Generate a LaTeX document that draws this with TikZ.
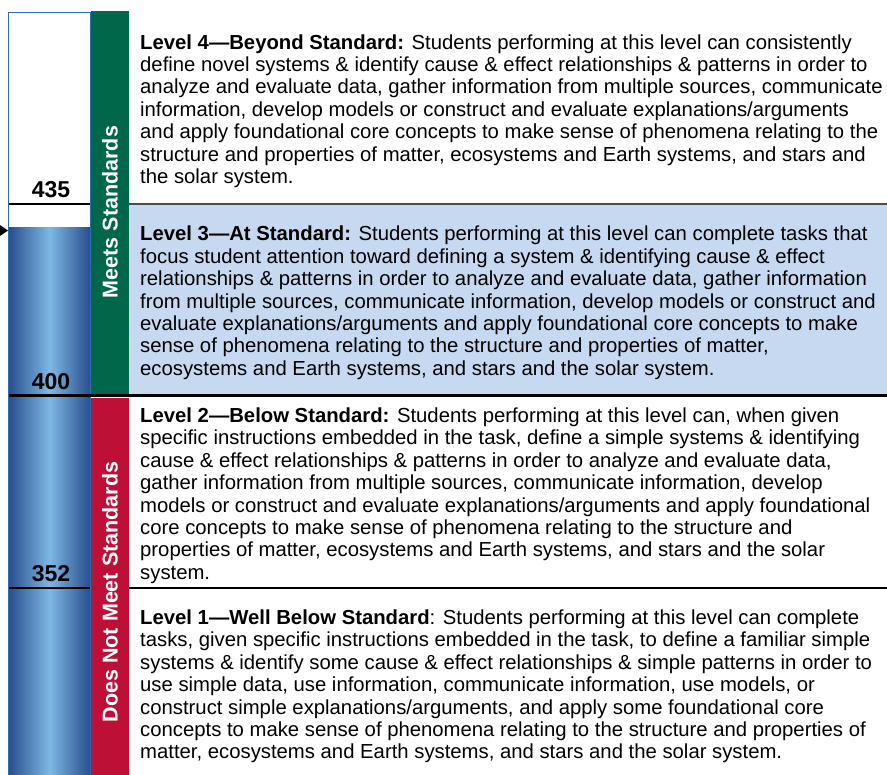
\documentclass[tikz,border=0pt]{standalone}
\usepackage{fontspec}
\setmainfont{Liberation Sans}
\definecolor{meetsgreen}{RGB}{0,103,74}
\definecolor{notred}{RGB}{190,16,55}
\definecolor{lvlblue}{RGB}{198,217,241}
\definecolor{bardark}{RGB}{42,78,142}
\definecolor{barlight}{RGB}{125,184,228}
\definecolor{baredge}{RGB}{40,110,180}
\begin{document}
\begin{tikzpicture}[x=1pt,y=-1pt,
    desc/.style={anchor=north west,align=left,inner sep=0pt,font=\fontsize{20.3}{22.4}\selectfont},
    score/.style={anchor=base,inner sep=0pt,font=\fontsize{23}{23}\selectfont\bfseries},
    band/.style={rotate=90,text=white,inner sep=0pt,font=\fontsize{21.5}{21.5}\selectfont\bfseries}]
      \useasboundingbox (0,0) rectangle (887,775);
      \fill[lvlblue] (129,204) rectangle (887,395);
      \shade[left color=bardark,right color=bardark,middle color=barlight] (9,228) rectangle (90,775);
      \draw[baredge,line width=1pt] (8.5,776) -- (8.5,12.5) -- (90,12.5) -- (90,776);
      \fill[meetsgreen] (91,11) rectangle (129,395);
      \fill[notred] (91,398) rectangle (129,775);
      \fill (0,225) -- (8,230.5) -- (0,236) -- cycle;
      \draw
        (51,198) node[score] (s435){435}
        (51,389.5) node[score] (s400){400}
        (51,581.5) node[score] (s352){352};
      \draw
        (110,212) node[band] (meets){Meets Standards}
        (110,592) node[band] (notmeets){Does Not Meet Standards};
      \begin{scope}[line cap=butt]
        \draw[line width=2pt] (9,204) -- (90,204);
        \draw[gray!60!black,line width=1.2pt] (129,204) -- (887,204);
        \draw[line width=3pt] (9,396) -- (887,396);
        \draw[line width=2.5pt] (9,588) -- (90,588);
        \draw[line width=2pt] (129,588) -- (887,588);
      \end{scope}
      \node[desc] (lvl4) at (140,34.2) {{\bfseries Level 4—Beyond Standard:} Students performing at this level can consistently\\
        define novel systems \& identify cause \& effect relationships \& patterns in order to\\
        analyze and evaluate data, gather information from multiple sources, communicate\\
        information, develop models or construct and evaluate explanations/arguments\\
        and apply foundational core concepts to make sense of phenomena relating to the\\
        structure and properties of matter, ecosystems and Earth systems, and stars and\\
        the solar system.};
      \node[desc] (lvl3) at (140,225.9) {{\bfseries Level 3—At Standard:} Students performing at this level can complete tasks that\\
        focus student attention toward defining a system \& identifying cause \& effect\\
        relationships \& patterns in order to analyze and evaluate data, gather information\\
        from multiple sources, communicate information, develop models or construct and\\
        evaluate explanations/arguments and apply foundational core concepts to make\\
        sense of phenomena relating to the structure and properties of matter,\\
        ecosystems and Earth systems, and stars and the solar system.};
      \node[desc] (lvl2) at (140,407.5) {{\bfseries Level 2—Below Standard:} Students performing at this level can, when given\\
        specific instructions embedded in the task, define a simple systems \& identifying\\
        cause \& effect relationships \& patterns in order to analyze and evaluate data,\\
        gather information from multiple sources, communicate information, develop\\
        models or construct and evaluate explanations/arguments and apply foundational\\
        core concepts to make sense of phenomena relating to the structure and\\
        properties of matter, ecosystems and Earth systems, and stars and the solar\\
        system.};
      \node[desc] (lvl1) at (140,609.5) {{\bfseries Level 1—Well Below Standard}: Students performing at this level can complete\\
        tasks, given specific instructions embedded in the task, to define a familiar simple\\
        systems \& identify some cause \& effect relationships \& simple patterns in order to\\
        use simple data, use information, communicate information, use models, or\\
        construct simple explanations/arguments, and apply some foundational core\\
        concepts to make sense of phenomena relating to the structure and properties of\\
        matter, ecosystems and Earth systems, and stars and the solar system.};
    \end{tikzpicture}
\end{document}
